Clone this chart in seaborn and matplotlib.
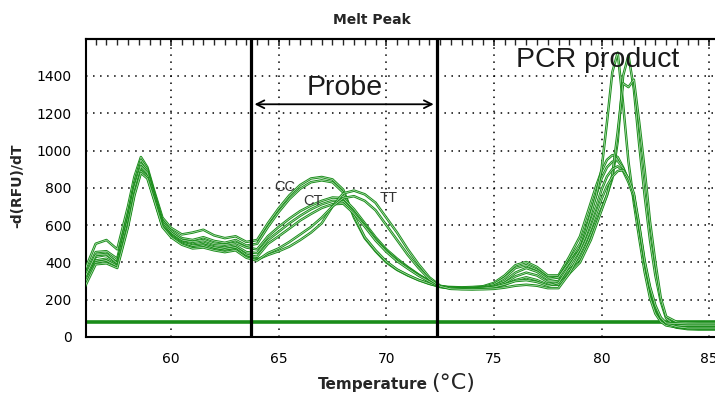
import numpy as np
import pandas as pd
import matplotlib
matplotlib.use('Agg')
import matplotlib.pyplot as plt
import matplotlib.patheffects as pe
from matplotlib.ticker import MultipleLocator
import seaborn as sns

# temperature grid (deg C) shared by all wells
temps = [56.0, 56.5, 57.0, 57.5, 58.0, 58.3, 58.6, 58.9, 59.2, 59.6, 60.0, 60.5, 61.0, 61.5, 62.0, 62.5, 63.0, 63.5, 64.0,
         64.5, 65.0, 65.5, 66.0, 66.5, 67.0, 67.5, 68.0, 68.5, 69.0, 69.5, 70.0, 70.5, 71.0, 71.5, 72.0, 72.5,
         73.0, 73.5, 74.0, 74.5, 75.0, 75.5, 76.0, 76.5, 77.0, 77.5, 78.0, 78.5,
         79.0, 79.25, 79.5, 79.75, 80.0, 80.25, 80.5, 80.75, 81.0, 81.25, 81.5, 81.75, 82.0, 82.25, 82.5, 82.75, 83.0,
         83.5, 84.0, 84.5, 85.0, 85.3]

# -d(RFU)/dT per well
cc_1 = [360, 500, 520, 470, 700, 860, 965, 910, 790, 640, 585, 550, 560, 575, 545, 530, 540, 510, 520,
        610, 690, 760, 815, 850, 858, 845, 790, 640, 530, 460, 400, 360, 330, 305, 285, 270,
        268, 266, 268, 272, 290, 330, 385, 402, 375, 330, 330, 430,
        540, 630, 720, 810, 890, 950, 975, 965, 910, 840, 760, 560, 370, 230, 140, 90, 68,
        50, 42, 40, 40, 40]
cc_2 = [330, 455, 460, 420, 660, 830, 950, 900, 780, 625, 570, 530, 520, 535, 515, 505, 520, 490, 500,
        590, 670, 740, 795, 830, 840, 830, 775, 650, 535, 465, 405, 362, 332, 306, 286, 270,
        265, 263, 264, 268, 283, 318, 370, 385, 360, 318, 320, 410,
        500, 580, 670, 760, 850, 910, 940, 945, 905, 840, 760, 580, 390, 250, 150, 95, 70,
        62, 60, 60, 60, 60]
ct_1 = [300, 430, 440, 400, 640, 810, 930, 890, 770, 615, 560, 520, 510, 520, 500, 495, 505, 480, 470,
        540, 590, 635, 675, 705, 730, 748, 745, 685, 610, 535, 470, 420, 375, 335, 300, 272,
        265, 262, 262, 265, 275, 300, 345, 370, 350, 310, 320, 400,
        470, 560, 660, 760, 900, 1150, 1420, 1525, 1250, 940, 720, 530, 350, 210, 125, 82, 62,
        52, 50, 50, 50, 50]
ct_2 = [280, 410, 420, 385, 620, 790, 905, 870, 755, 600, 550, 510, 495, 505, 485, 480, 490, 455, 450,
        520, 565, 610, 650, 685, 712, 730, 728, 670, 600, 525, 462, 412, 372, 332, 299, 270,
        262, 260, 260, 262, 270, 290, 325, 345, 330, 295, 300, 360,
        420, 480, 550, 620, 690, 760, 850, 1050, 1400, 1510, 1330, 1030, 760, 520, 330, 190, 100,
        55, 46, 45, 45, 45]
ct_3 = [320, 440, 445, 395, 630, 800, 915, 880, 760, 605, 545, 505, 490, 495, 480, 470, 480, 440, 430,
        500, 540, 582, 625, 660, 692, 712, 715, 662, 592, 518, 457, 407, 367, 329, 297, 268,
        260, 258, 258, 260, 265, 280, 305, 320, 305, 280, 280, 340,
        400, 460, 520, 600, 680, 760, 870, 1100, 1360, 1340, 1380, 1150, 900, 620, 400, 210, 110,
        80, 76, 75, 75, 75]
tt_1 = [290, 400, 410, 380, 600, 770, 890, 860, 745, 595, 540, 500, 480, 490, 470, 460, 470, 430, 415,
        440, 460, 485, 520, 560, 610, 700, 770, 785, 765, 720, 640, 560, 470, 390, 320, 275,
        262, 260, 260, 262, 268, 282, 300, 305, 295, 275, 290, 380,
        470, 540, 620, 700, 790, 860, 900, 915, 890, 830, 750, 590, 400, 260, 160, 100, 72,
        55, 48, 48, 48, 48]
tt_2 = [270, 390, 395, 370, 590, 760, 880, 850, 740, 590, 535, 495, 475, 480, 465, 455, 465, 425, 410,
        450, 475, 510, 550, 590, 640, 700, 745, 755, 730, 680, 600, 520, 440, 370, 310, 272,
        258, 256, 255, 256, 258, 265, 275, 280, 275, 262, 262, 340,
        450, 510, 580, 660, 740, 810, 860, 890, 895, 850, 770, 600, 410, 270, 170, 105, 75,
        72, 70, 70, 70, 70]

wells = {'CC 1': cc_1, 'CC 2': cc_2, 'CT 1': ct_1, 'CT 2': ct_2, 'CT 3': ct_3, 'TT 1': tt_1, 'TT 2': tt_2}
threshold = 82
probe_range = [63.72, 72.36]
genotype_labels = ['CC', 'CT', 'TT']
genotype_pos = [(65.3, 802), (66.6, 730), (70.1, 746)]

df = pd.concat([pd.DataFrame({'temp': temps, 'value': v, 'well': k}) for k, v in wells.items()])

sns.set_style("white")
plt.rcParams['font.family'] = ['DejaVu Sans']
green = '#1a8c1a'

fig = plt.figure(figsize=(7.15, 3.98), dpi=100)
ax = fig.add_axes([0.1203, 0.1533, 0.8797, 0.7487])

ax.axhline(threshold, color=green, lw=2.6, zorder=2)
sns.lineplot(data=df, x='temp', y='value', units='well', estimator=None, color=green,
             lw=0.45, legend=False, ax=ax, zorder=3, sort=False)
for ln in ax.lines[1:]:
    ln.set_color('#c8eac8')
    ln.set_path_effects([pe.Stroke(linewidth=1.8, foreground=green), pe.Normal()])

for x in probe_range:
    ax.axvline(x, color='black', lw=2.3, zorder=4)
ax.annotate('', xy=(probe_range[0] + 0.03, 1248), xytext=(probe_range[1] - 0.03, 1248),
            arrowprops=dict(arrowstyle='<->', color='black', lw=1.3, mutation_scale=14), zorder=5)

ax.text(68.05, 1336, 'Probe', fontsize=20.5, family='Liberation Sans', color='#1a1a1a',
        ha='center', va='center')
ax.text(79.83, 1486, 'PCR product', fontsize=20.5, family='Liberation Sans', color='#1a1a1a',
        ha='center', va='center')
for lab, (gx, gy) in zip(genotype_labels, genotype_pos):
    ax.text(gx, gy, lab, fontsize=10.5, family='Liberation Sans', color='#333333',
            ha='center', va='center')

ax.set_xlim(56.05, 85.27)
ax.set_ylim(0, 1598)
ax.xaxis.set_major_locator(MultipleLocator(5))
ax.xaxis.set_minor_locator(MultipleLocator(0.5))
ax.yaxis.set_major_locator(MultipleLocator(200))
ax.yaxis.set_minor_locator(MultipleLocator(50))
ax.grid(True, which='major', color='black', linestyle=(0, (1, 3.6)), linewidth=1.1)
ax.tick_params(which='major', direction='inout', length=7, width=1.2, top=False, right=False,
               labelsize=10, colors='black', pad=7)
ax.tick_params(which='minor', direction='inout', length=4, width=1.0, top=False, right=False)
for s in ['left', 'bottom', 'top']:
    ax.spines[s].set_color('black')
    ax.spines[s].set_linewidth(1.5)
ax.spines['right'].set_visible(False)
ax.set_xlabel('')
ax.set_ylabel('')

# inward ticks along the top edge
top = ax.secondary_xaxis('top')
top.xaxis.set_major_locator(MultipleLocator(5))
top.xaxis.set_minor_locator(MultipleLocator(0.5))
top.tick_params(which='major', direction='in', length=5, width=1.2, labeltop=False)
top.tick_params(which='minor', direction='in', length=4, width=1.0)
top.spines['top'].set_linewidth(1.5)

fig.text(0.52, 0.95, 'Melt Peak', fontsize=10, fontweight='bold', ha='center', va='center')
fig.text(0.024, 0.533, '-d(RFU)/dT', fontsize=10, fontweight='bold', rotation=90,
         ha='center', va='center')
fig.text(0.599, 0.022, 'Temperature', fontsize=11, fontweight='bold', ha='right', va='baseline')
fig.text(0.603, 0.022, '(°C)', fontsize=16, ha='left', va='baseline')

fig.savefig('out.png', dpi=100)
